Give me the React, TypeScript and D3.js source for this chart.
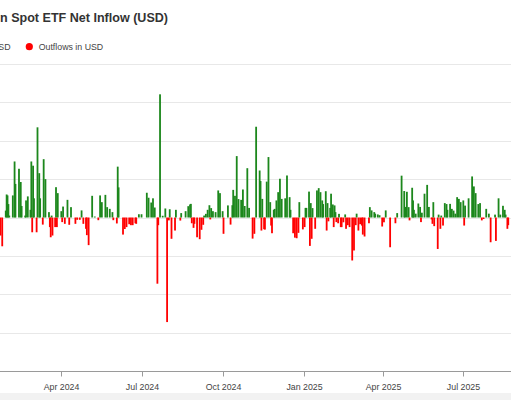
import * as d3 from "d3"

// [day of month, net flow in millions of USD]
type Flow = [number, number]

const jan2024: Flow[] = [[23, -94], [25, -150], [29, 36], [30, 120], [31, 115]]
const feb2024: Flow[] = [
  [1, 70], [2, 10], [6, 115], [8, 292], [9, 175], [13, 254], [15, 185], [16, 60],
  [20, 10], [21, 89], [23, 110], [26, 40], [27, 292], [28, -77], [29, 270],
]
const mar2024: Flow[] = [
  [1, 100], [4, -77], [5, 470], [7, 231], [8, 100], [11, -37], [12, 304], [14, 200],
  [18, 28], [19, -50], [20, -103], [21, 10], [22, -94], [25, -50], [26, 158], [27, -50], [28, 127],
]
const apr2024: Flow[] = [
  [1, 33], [2, -24], [3, 57], [5, -33], [8, 92], [10, -38], [12, 54], [17, -33],
  [19, -12], [22, -12], [24, 37], [26, -33], [29, -59], [30, -92],
]
const may2024: Flow[] = [
  [2, -144], [6, 113], [9, 5], [13, -14], [15, 115], [17, 80], [21, 118], [23, 54],
  [26, 45], [29, 28], [30, -14],
]
const jun2024: Flow[] = [
  [3, -31], [4, 265], [5, 157], [10, -89], [12, -60], [14, -50], [17, -35], [19, -40],
  [21, -40], [24, -30], [25, -33], [28, 17],
]
const jul2024: Flow[] = [
  [1, 17], [7, 129], [9, 103], [12, 78], [14, 100], [16, 52], [19, -345], [20, -40],
  [22, 642], [25, 9], [28, 47], [30, -545],
]
const aug2024: Flow[] = [
  [1, -15], [2, 43], [4, -111], [8, -68], [9, 40], [14, -16], [15, 23], [20, 33],
  [23, 59], [25, 68], [26, 71], [27, -30], [29, -54], [30, -33],
]
const sep2024: Flow[] = [
  [2, -103], [5, -113], [7, -64], [9, -38], [10, 10], [12, 19], [14, 40], [16, 64],
  [17, -10], [18, 49], [20, 33], [23, 28], [26, 141], [28, 127],
]
const oct2024: Flow[] = [
  [1, 33], [2, -85], [7, 63], [10, -37], [12, 64], [13, 144], [15, 113], [17, 320],
  [19, 96], [22, 92], [24, 146], [26, 60], [29, 257], [31, 50],
]
const nov2024: Flow[] = [
  [4, -110], [6, -85], [8, 473], [12, 245], [13, 190], [14, -68], [15, 97], [17, -61],
  [18, -63], [20, 187], [22, 315], [24, 80], [25, -42], [26, -82], [28, 40], [29, 45],
]
const dec2024: Flow[] = [
  [1, 89], [3, 132], [5, 202], [7, 97], [11, 100], [13, 219], [16, 106], [17, 40],
  [20, -82], [22, -105], [24, -108], [26, -80], [27, 80], [31, -62],
]
const jan2025: Flow[] = [
  [2, -50], [3, 50], [4, 50], [7, 135], [8, -148], [9, 75], [10, -111], [11, 49],
  [14, -59], [16, 141], [18, 153], [20, 132], [22, 89], [23, 70], [26, 137], [27, -68],
  [28, 75], [29, -20], [31, 50],
]
const feb2025: Flow[] = [
  [1, 124], [3, 68], [4, -50], [5, 63], [6, 28], [7, -24], [9, -30], [10, 19],
  [12, -50], [13, -50], [15, -25], [17, 16], [18, -59], [20, -40], [22, -50], [25, -224], [27, -172],
]
const mar2025: Flow[] = [
  [1, -40], [2, 20], [4, -68], [6, -35], [8, -42], [9, -89], [11, -99], [16, -30],
  [17, 54], [19, 37], [22, 28], [23, 20], [26, 16], [28, 12], [31, -47],
]
const apr2025: Flow[] = [
  [2, -25], [4, 37], [9, -155], [15, -30], [17, 23], [22, 218], [25, 138], [26, 55],
  [28, 134], [30, 54],
]
const may2025: Flow[] = [
  [1, -15], [4, 155], [5, 89], [6, 40], [8, 20], [11, 73], [13, 55], [14, -24],
  [15, 25], [18, 124], [21, 170], [23, 55], [26, -10], [27, -33], [28, 80], [29, -45],
]
const jun2025: Flow[] = [
  [2, -164], [3, 15], [5, -59], [6, 10], [8, -42], [10, 75], [12, 70], [13, 40],
  [16, 71], [18, 45], [20, 36], [22, 20], [24, 106], [26, 97], [28, 80],
]
const jul2025: Flow[] = [
  [1, 89], [2, -42], [3, 62], [7, 100], [11, 214], [13, 162], [15, 127], [18, 70],
  [20, 75], [22, -15], [24, -8], [27, 45], [30, 20],
]
const aug2025: Flow[] = [
  [1, -129], [6, 15], [7, -122], [10, 100], [12, 15], [15, 61], [17, 40], [18, 15],
  [20, -59], [21, -40],
]

const monthKeys = [
  "2024-01", "2024-02", "2024-03", "2024-04", "2024-05", "2024-06", "2024-07", "2024-08",
  "2024-09", "2024-10", "2024-11", "2024-12", "2025-01", "2025-02", "2025-03", "2025-04",
  "2025-05", "2025-06", "2025-07", "2025-08",
]
const monthFlows = [
  jan2024, feb2024, mar2024, apr2024, may2024, jun2024, jul2024, aug2024,
  sep2024, oct2024, nov2024, dec2024, jan2025, feb2025, mar2025, apr2025,
  may2025, jun2025, jul2025, aug2025,
]

const xTicks = ["2024-04-01", "2024-07-01", "2024-10-01", "2025-01-01", "2025-04-01", "2025-07-01"]
const yTicks = [-600, -400, -200, 0, 200, 400, 600, 800]

const WIDTH = 511
const HEIGHT = 400
const GREEN = "#1c871c"
const RED = "#ff0000"
const FONT = "'Liberation Sans', Arial, Helvetica, sans-serif"

const parse = d3.timeParse("%Y-%m-%d")

export default function App() {
  const flows = monthKeys.flatMap((key, i) =>
    monthFlows[i].map(([day, value]) => ({
      date: parse(`${key}-${String(day).padStart(2, "0")}`)!,
      value,
    }))
  )

  const x = d3
    .scaleTime()
    .domain([parse("2024-04-01")!, parse("2025-07-01")!])
    .range([61.3, 463.3])

  const y = d3.scaleLinear().domain([-800, 800]).range([371, 64])

  const barWidth = 1.8
  const fmt = d3.timeFormat("%b %Y")

  return (
    <svg
      width={WIDTH}
      height={HEIGHT}
      style={{ position: "absolute", left: 0, top: 0, background: "#fff" }}
      fontFamily={FONT}
    >
      {/* Title, cut at the left edge like the reference */}
      <text x={168} y={21.5} textAnchor="end" fontSize={12.55} fontWeight="bold" fill="#333">
        Bitcoin Spot ETF Net Inflow (USD)
      </text>

      {/* Legend */}
      <circle cx={-80} cy={46.7} r={3.6} fill={GREEN} />
      <text x={10.5} y={49.8} textAnchor="end" fontSize={8.8} fill="#444">
        Inflows in USD
      </text>
      <circle cx={29.3} cy={46.7} r={3.6} fill={RED} />
      <text x={38.7} y={49.8} fontSize={8.8} fill="#444">
        Outflows in USD
      </text>

      {/* Grid */}
      {yTicks.map((t) => (
        <line
          key={t}
          x1={0}
          x2={WIDTH}
          y1={Math.round(y(t)) + 0.5}
          y2={Math.round(y(t)) + 0.5}
          stroke="#e8e8e8"
          strokeWidth={1}
        />
      ))}

      {/* Bars */}
      {flows.map((d, i) => {
        const y0 = y(0)
        const y1 = y(d.value)
        return (
          <rect
            key={i}
            x={x(d.date) - barWidth / 2}
            y={Math.min(y0, y1)}
            width={barWidth}
            height={Math.abs(y1 - y0)}
            fill={d.value >= 0 ? GREEN : RED}
          />
        )
      })}

      {/* X axis */}
      <line x1={0} x2={WIDTH} y1={371.5} y2={371.5} stroke="#9a9a9a" strokeWidth={1} />
      {xTicks.map((t) => {
        const px = Math.round(x(parse(t)!)) + 0.5
        return (
          <g key={t}>
            <line x1={px} x2={px} y1={371.5} y2={376.5} stroke="#9a9a9a" />
            <text x={px} y={389.5} textAnchor="middle" fontSize={8.8} fill="#444">
              {fmt(parse(t)!)}
            </text>
          </g>
        )
      })}

      <rect x={0} y={393} width={WIDTH} height={7} fill="#f2f2f2" />
    </svg>
  )
}
